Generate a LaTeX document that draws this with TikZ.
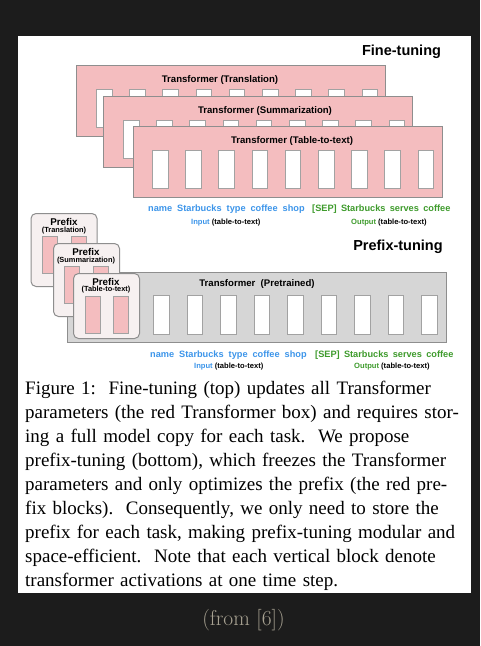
\documentclass[tikz,border=0pt]{standalone}
\usepackage{fontspec}
\newfontfamily\sansf{Liberation Sans}
\newfontfamily\serf{Liberation Serif}
\definecolor{bgc}{HTML}{1C1C1C}
\definecolor{pinkf}{HTML}{F4BDBF}
\definecolor{bordc}{HTML}{8E8E8E}
\definecolor{blkc}{HTML}{A2A2A2}
\definecolor{grayf}{HTML}{D6D6D6}
\definecolor{prefixf}{HTML}{F6F0F0}
\definecolor{bluet}{HTML}{3C95EA}
\definecolor{greent}{HTML}{3E9B2C}
\definecolor{fromc}{HTML}{A8A292}
\newcommand\bgap{\hspace{5pt}}
\newcommand\ggap{\hspace{4.3pt}}
\begin{document}
\begin{tikzpicture}[x=1pt,y=-1pt,
  tbox/.style={fill=pinkf,draw=bordc,line width=1pt,inner sep=0pt,anchor=north west},
  ablk/.style={fill=white,draw=blkc,line width=0.9pt,inner sep=0pt,anchor=north west,minimum width=15.5pt,minimum height=38pt},
  pblk/.style={fill=pinkf,draw=blkc,line width=0.9pt,inner sep=0pt,anchor=north west,minimum width=15pt,minimum height=37pt},
  gbox/.style={fill=grayf,draw=bordc,line width=1pt,inner sep=0pt,anchor=north west},
  pbox/.style={fill=prefixf,draw=bordc,line width=1pt,rounded corners=5pt,inner sep=0pt,anchor=north west,minimum width=66pt},
  lbl/.style={inner sep=0pt,font=\sansf\bfseries\fontsize{9.6}{11}\selectfont},
  big/.style={inner sep=0pt,font=\sansf\bfseries\fontsize{14.5}{17}\selectfont},
  tok/.style={inner sep=0pt,anchor=west,font=\sansf\bfseries\fontsize{9.2}{11}\selectfont},
  io/.style={inner sep=0pt,anchor=west,font=\sansf\bfseries\fontsize{7.6}{9}\selectfont},
  ptitle/.style={inner sep=0pt,font=\sansf\bfseries\fontsize{9.8}{11}\selectfont},
  psub/.style={inner sep=0pt,font=\sansf\bfseries\fontsize{7.4}{9}\selectfont}
]
\useasboundingbox (0,0) rectangle (480,646);
\fill[bgc] (0,0) rectangle (480,646);
\fill[white] (18,36) rectangle (471,593);

% Fine-tuning
\node[big] (ft) at (401.5,52) {Fine-tuning};
\node[tbox,minimum width=309pt,minimum height=71pt] (t1) at (76,65) {};
\node[lbl] (t1l) at (220,80) {Transformer (Translation)};
\foreach \i in {0,...,8} \node[ablk] (a1-\i) at ({96+33.2*\i},89) {};
\node[tbox,minimum width=309pt,minimum height=71pt] (t2) at (103,96) {};
\node[lbl] (t2l) at (265,111) {Transformer (Summarization)};
\foreach \i in {0,...,8} \node[ablk] (a2-\i) at ({123+33.2*\i},120) {};
\node[tbox,minimum width=309pt,minimum height=71pt] (t3) at (133,126) {};
\node[lbl] (t3l) at (292,141) {Transformer (Table-to-text)};
\foreach \i in {0,...,8} \node[ablk] (a3-\i) at ({152+33.2*\i},150) {};

\node[tok] (tin1) at (148,209) {\color{bluet}name\bgap Starbucks\bgap type\bgap coffee\bgap shop};
\node[tok] (tout1) at (312,209) {\color{greent}[SEP]\ggap Starbucks\ggap serves\ggap coffee};
\node[io] (lin1) at (191,223) {\color{bluet}Input \color{black}(table-to-text)};
\node[io] (lout1) at (351,223) {\color{greent}Output \color{black}(table-to-text)};

% Prefix-tuning
\node[big] (pt) at (398,247) {Prefix-tuning};
\node[gbox,minimum width=379pt,minimum height=70pt] (g) at (67,272) {};
\node[lbl] (gl) at (257,284) {Transformer\ \ (Pretrained)};
\foreach \i in {0,...,8} \node[ablk,minimum height=39pt] (g-\i) at ({153+33.5*\i},295) {};

\node[pbox,minimum height=73pt] (p1) at (30.5,213) {};
\node[ptitle] (p1t) at (64,221.5) {Prefix};
\node[psub] (p1s) at (64,230.5) {(Translation)};
\node[pblk] (p1a) at (42,236) {};
\node[pblk] (p1b) at (71,236) {};

\node[pbox,minimum height=73pt] (p2) at (53,243) {};
\node[ptitle] (p2t) at (86,251.5) {Prefix};
\node[psub] (p2s) at (86,260.5) {(Summarization)};
\node[pblk] (p2a) at (64,266) {};
\node[pblk] (p2b) at (93,266) {};

\node[pbox,minimum height=65pt] (p3) at (73,273) {};
\node[ptitle] (p3t) at (106,281.5) {Prefix};
\node[psub] (p3s) at (106,290) {(Table-to-text)};
\node[pblk] (p3a) at (84.5,296) {};
\node[pblk] (p3b) at (113,296) {};

\node[tok] (tin2) at (150,355) {\color{bluet}name\bgap Starbucks\bgap type\bgap coffee\bgap shop};
\node[tok] (tout2) at (315,355) {\color{greent}[SEP]\ggap Starbucks\ggap serves\ggap coffee};
\node[io] (lin2) at (194,367) {\color{bluet}Input \color{black}(table-to-text)};
\node[io] (lout2) at (354,367) {\color{greent}Output \color{black}(table-to-text)};

% caption
\node[inner sep=0pt,anchor=north west,text width=438pt,
  font=\serf\fontsize{19}{24}\selectfont] (cap) at (25,380.5) {%
\hbox to 438pt{Figure 1:\ \ Fine-tuning (top) updates all Transformer}
\hbox to 438pt{parameters (the red Transformer box) and requires stor-}
\hbox to 438pt{ing a full model copy for each task.\ \ We propose}
\hbox to 438pt{prefix-tuning (bottom), which freezes the Transformer}
\hbox to 438pt{parameters and only optimizes the prefix (the red pre-}
\hbox to 438pt{fix blocks).\ \ Consequently, we only need to store the}
\hbox to 438pt{prefix for each task, making prefix-tuning modular and}
\hbox to 438pt{space-efficient.\ \ Note that each vertical block denote}
\hbox{transformer activations at one time step.}};

\node[inner sep=0pt,text=fromc,font=\fontsize{21.5}{24}\selectfont] (from) at (243.5,620) {(from [6])};
\end{tikzpicture}
\end{document}
